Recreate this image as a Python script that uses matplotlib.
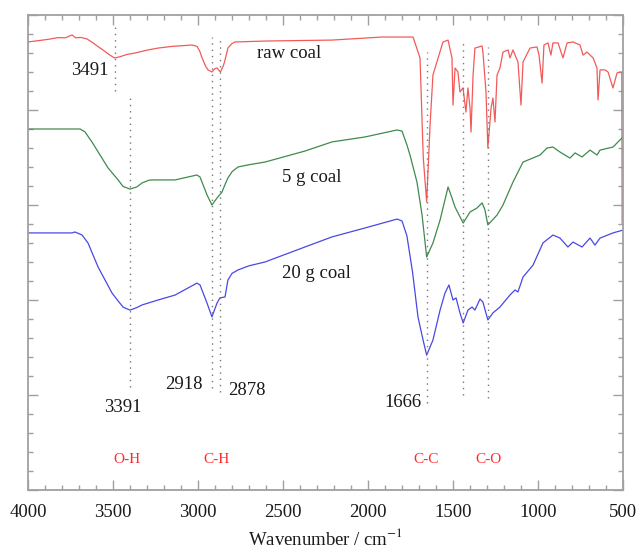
import matplotlib
matplotlib.use("Agg")
import matplotlib.pyplot as plt
from matplotlib.ticker import MultipleLocator, NullFormatter

plt.rcParams['font.family'] = ['Liberation Serif', 'DejaVu Serif']
plt.rcParams['mathtext.fontset'] = 'stix'

# ---------------- data ----------------
raw_x = [4000, 3940, 3880, 3824, 3780, 3741, 3720, 3690, 3653, 3620, 3590, 3550,
         3520, 3491, 3460, 3420, 3371, 3300, 3235, 3150, 3035, 3006, 2990, 2976,
         2955, 2941, 2918, 2900, 2888, 2868, 2850, 2841, 2824, 2800, 2782, 2606,
         2212, 1918, 1735, 1694, 1675,
         1655, 1635, 1618, 1559, 1529, 1506, 1500, 1488, 1471, 1459, 1441, 1424,
         1412, 1400, 1394, 1382, 1371, 1329, 1324, 1306, 1295, 1276, 1265, 1253,
         1241, 1224, 1206, 1176, 1165, 1147, 1118, 1100, 1088, 1047, 1006, 994,
         976, 965, 941, 924, 912, 882, 853, 829, 794, 753, 735, 712, 676, 653,
         647, 635, 606, 588, 559, 535, 518, 507, 505]
raw_y = [23.58, 23.65, 23.72, 23.81, 23.8, 23.95, 23.8, 23.82, 23.74, 23.55, 23.35, 23.1,
         22.9, 22.74, 22.8, 22.92, 23.0, 23.15, 23.26, 23.35, 23.42, 23.35, 23.1, 22.74,
         22.3, 22.11, 22.0, 22.18, 22.21, 22.0, 22.35, 22.63, 23.26, 23.5, 23.58, 23.63,
         23.68, 23.84, 23.84, 22.74, 17.5,
         15.16, 19.21, 21.84, 23.58, 23.68, 22.74, 20.26, 22.21, 22.0, 20.95, 21.16, 19.89,
         21.16, 20.11, 18.84, 21.84, 23.26, 23.37, 23.05, 20.95, 18.0, 20.11, 20.63, 19.37,
         21.84, 22.21, 23.05, 23.16, 22.74, 23.16, 22.53, 20.26, 22.53, 23.26, 23.32, 22.89,
         21.42, 23.42, 23.53, 22.89, 23.53, 23.53, 22.74, 23.53, 23.58, 23.42, 22.89, 23.05, 22.74, 22.21,
         20.53, 22.11, 22.11, 22.0, 21.16, 21.95, 22.0, 22.0, 14.05]

g5_x = [4000, 3694, 3665, 3624, 3529, 3470, 3440, 3400, 3360, 3329, 3290, 3271, 3135,
        3006, 2988, 2947, 2918, 2888, 2859, 2840, 2824, 2800, 2765, 2700, 2606, 2371,
        2212, 2018, 1829, 1800, 1771, 1753, 1712, 1682, 1655, 1618, 1576, 1559, 1529,
        1506, 1488, 1440, 1400, 1359, 1329, 1312, 1295, 1241, 1206, 1147, 1088, 988,
        947, 912, 871, 812, 782, 741, 694, 653, 635, 559, 500]
g5_y = [19.0, 19.0, 18.85, 18.32, 16.95, 16.32, 15.97, 15.84, 15.95, 16.16, 16.3, 16.32, 16.32,
        16.58, 16.47, 15.53, 15.0, 15.37, 15.68, 16.1, 16.42, 16.75, 17.0, 17.12, 17.26, 17.84,
        18.32, 18.58, 18.95, 18.89, 18.16, 17.63, 16.21, 14.47, 12.26, 13.0, 14.21, 14.84, 15.95,
        15.37, 14.89, 14.05, 14.63, 14.84, 15.11, 14.74, 13.95, 14.47, 15.0, 16.21, 17.26, 17.63,
        18.0, 18.05, 17.79, 17.47, 17.74, 17.53, 17.89, 17.63, 17.89, 18.05, 18.58]

g20_x = [4000, 3741, 3724, 3682, 3647, 3588, 3506, 3470, 3440, 3400, 3360, 3329, 3235,
         3135, 3006, 2988, 2947, 2918, 2888, 2871, 2841, 2824, 2800, 2765, 2700, 2606,
         2371, 2212, 2018, 1829, 1800, 1771, 1738, 1706, 1676, 1655, 1618, 1576, 1547,
         1524, 1500, 1482, 1459, 1440, 1412, 1388, 1371, 1341, 1324, 1295, 1265, 1224,
         1165, 1135, 1118, 1088, 1029, 971, 912, 871, 824, 794, 741, 694, 665,
         635, 559, 500]
g20_y = [13.53, 13.53, 13.58, 13.42, 13.0, 11.74, 10.37, 9.95, 9.62, 9.47, 9.6, 9.74, 10.0,
         10.26, 10.89, 10.79, 9.84, 9.11, 9.84, 10.11, 10.16, 11.05, 11.4, 11.58, 11.8, 12.0,
         12.79, 13.32, 13.79, 14.26, 14.16, 13.37, 11.47, 9.11, 7.89, 7.1, 7.89, 9.47, 10.37,
         10.79, 10.0, 10.11, 9.32, 8.79, 9.47, 9.63, 9.47, 10.05, 9.89, 8.95, 9.32, 9.63,
         10.26, 10.53, 10.42, 11.21, 11.84, 13.0, 13.42, 13.26, 12.79, 13.05, 12.79, 13.26, 12.89,
         13.26, 13.53, 13.68]

marker_x = [3491, 3400, 2918, 2868, 1655, 1440, 1295]
marker_top = [24.58, 20.63, 23.84, 23.68, 23.05, 23.53, 23.32]
marker_bottom = [21.0, 5.42, 5.37, 5.16, 4.58, 5.0, 4.84]

peak_labels = ['3491', '3391', '2918', '2878', '1666']
peak_label_x = [3635, 3441, 3082, 2712, 1794]
peak_label_y = [22.1, 4.32, 5.53, 5.26, 4.58]

series_names = ['raw coal', '5 g coal', '20 g coal']
series_label_x = [2465, 2329, 2306]
series_label_y = [22.95, 16.47, 11.42]

bond_labels = ['O-H', 'C-H', 'C-C', 'C-O']
bond_x = [3418, 2894, 1659, 1294]
bond_y = 1.63

xticks = [4000, 3500, 3000, 2500, 2000, 1500, 1000, 500]

# ---------------- figure ----------------
fig = plt.figure(figsize=(6.4, 5.5), dpi=100)
ax = fig.add_axes([28/640, 60/550, 595/640, 475/550])

ax.plot(raw_x, raw_y, color='#f25a5a', lw=0.9)
ax.plot(g5_x, g5_y, color='#3f8a4e', lw=0.9)
ax.plot(g20_x, g20_y, color='#4848e6', lw=0.9)

for x, t, b in zip(marker_x, marker_top, marker_bottom):
    ax.plot([x, x], [b, t], color='#777777', lw=1.0, linestyle=(0, (1, 3.5)))

fs = 13.5
for s, x, y in zip(peak_labels, peak_label_x, peak_label_y):
    ax.text(x, y, s, ha='center', va='center', fontsize=fs, color='#1a1a1a')
for s, x, y in zip(series_names, series_label_x, series_label_y):
    ax.text(x, y, s, ha='center', va='center', fontsize=fs, color='#1a1a1a')
for s, x in zip(bond_labels, bond_x):
    ax.text(x, bond_y, s, ha='center', va='center', fontsize=11, color='#ff2a2a')

ax.set_xlim(4000, 500)
ax.set_ylim(0, 25)
ax.set_xticks(xticks)
ax.xaxis.set_minor_locator(MultipleLocator(100))
ax.yaxis.set_major_locator(MultipleLocator(5))
ax.yaxis.set_minor_locator(MultipleLocator(1))
ax.yaxis.set_major_formatter(NullFormatter())

for sp in ax.spines.values():
    sp.set_color('#a0a0a0')
    sp.set_linewidth(1.3)
ax.tick_params(which='both', direction='in', top=True, right=True, color='#a0a0a0', width=1.0)
ax.tick_params(which='major', length=7)
ax.tick_params(which='minor', length=3.5)
ax.tick_params(axis='x', which='major', labelsize=fs, pad=10, labelcolor='#1a1a1a')

ax.set_xlabel('Wavenumber / cm$^{-1}$', fontsize=fs, color='#1a1a1a', labelpad=5)

fig.savefig('out.png', dpi=100)
